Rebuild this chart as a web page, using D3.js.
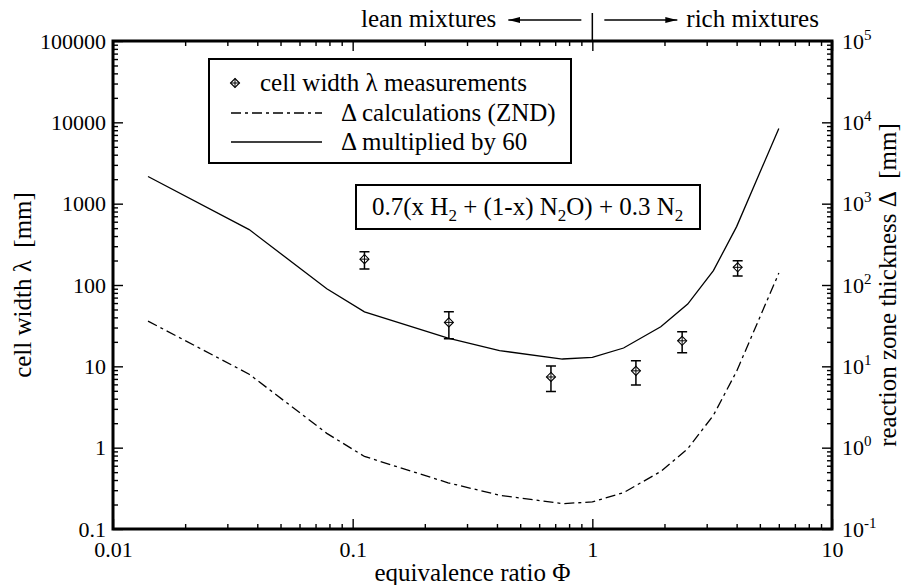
<!DOCTYPE html>
<html lang="en">
<head>
<meta charset="utf-8">
<title>Cell width vs equivalence ratio</title>
<script src="https://d3js.org/d3.v7.min.js"></script>
<style>
  body { margin: 0; background: #fff; }
  svg text { font-family: "Liberation Serif", "Times New Roman", serif; fill: #000; }
</style>
</head>
<body>
<script>
// ZND reaction zone thickness (mm) vs equivalence ratio
var phi   = [0.014, 0.037, 0.078, 0.112, 0.25, 0.41, 0.75, 1.0, 1.35, 1.93, 2.5, 3.2, 4.0, 6.0];
var delta = [36, 8.0, 1.5, 0.78, 0.37, 0.26, 0.205, 0.215, 0.28, 0.51, 0.97, 2.5, 8.7, 140];
var factor = 60;   // "multiplied by 60"

// measured cell widths (mm) with error bars
var mPhi = [0.112, 0.252, 0.672, 1.52, 2.37, 4.04];
var mVal = [208, 34.7, 7.4, 8.8, 20.6, 165];
var mLo  = [157, 21.8, 4.9, 5.9, 14.7, 129];
var mHi  = [256, 47, 10.1, 11.7, 26.6, 199];

var xTicks = [0.01, 0.1, 1, 10];
var xLabels = ["0.01", "0.1", "1", "10"];
var yTicks = [0.1, 1, 10, 100, 1000, 10000, 100000];
var yLabels = ["0.1", "1", "10", "100", "1000", "10000", "100000"];
var rightExp = ["-1", "0", "1", "2", "3", "4", "5"];

var W = 903, H = 585,
    pLeft = 113, pRight = 832, pTop = 41, pBottom = 529;

var svg = d3.select("body").append("svg")
    .attr("width", W).attr("height", H)
    .attr("font-family", "Liberation Serif, Times New Roman, serif");

var x = d3.scaleLog().domain([0.01, 10]).range([pLeft, pRight]);
var y = d3.scaleLog().domain([0.1, 100000]).range([pBottom, pTop]);

function minors(ticks) {
  var out = [];
  for (var i = 0; i < ticks.length - 1; i++)
    for (var k = 2; k <= 9; k++) out.push(ticks[i] * k);
  return out;
}
var xMinor = minors(xTicks), yMinor = minors(yTicks);

function clean(g) {
  g.attr("font-family", null).attr("font-size", null);
  g.select(".domain").remove();
  g.selectAll("line").attr("stroke", "#000").attr("stroke-width", 1.4);
}

// bottom axis
svg.append("g").attr("transform", "translate(0," + pBottom + ")")
  .call(d3.axisBottom(x).tickValues(xTicks).tickSize(-10).tickPadding(12)
    .tickFormat(function(d, i) { return xLabels[i]; }))
  .call(clean)
  .selectAll("text").attr("font-size", 22);
svg.append("g").attr("transform", "translate(0," + pBottom + ")")
  .call(d3.axisBottom(x).tickValues(xMinor).tickSize(-5).tickFormat(""))
  .call(clean);

// top axis
svg.append("g").attr("transform", "translate(0," + pTop + ")")
  .call(d3.axisTop(x).tickValues(xTicks).tickSize(-10).tickFormat(""))
  .call(clean);
svg.append("g").attr("transform", "translate(0," + pTop + ")")
  .call(d3.axisTop(x).tickValues(xMinor).tickSize(-5).tickFormat(""))
  .call(clean);

// left axis
svg.append("g").attr("transform", "translate(" + pLeft + ",0)")
  .call(d3.axisLeft(y).tickValues(yTicks).tickSize(-10).tickPadding(7)
    .tickFormat(function(d, i) { return yLabels[i]; }))
  .call(clean)
  .selectAll("text").attr("font-size", 22);
svg.append("g").attr("transform", "translate(" + pLeft + ",0)")
  .call(d3.axisLeft(y).tickValues(yMinor).tickSize(-5).tickFormat(""))
  .call(clean);

// right axis with powers of ten
var ra = svg.append("g").attr("transform", "translate(" + pRight + ",0)")
  .call(d3.axisRight(y).tickValues(yTicks).tickSize(-10).tickPadding(10).tickFormat(""))
  .call(clean);
ra.selectAll(".tick text").each(function(d, i) {
  var t = d3.select(this).attr("font-size", 22);
  t.text(null);
  t.append("tspan").text("10");
  t.append("tspan").attr("font-size", 15).attr("dy", -9).text(rightExp[i]);
});
svg.append("g").attr("transform", "translate(" + pRight + ",0)")
  .call(d3.axisRight(y).tickValues(yMinor).tickSize(-5).tickFormat(""))
  .call(clean);

// frame
svg.append("rect")
  .attr("x", pLeft).attr("y", pTop)
  .attr("width", pRight - pLeft).attr("height", pBottom - pTop)
  .attr("fill", "none").attr("stroke", "#000").attr("stroke-width", 3);

// axis titles
svg.append("text")
  .attr("x", (pLeft + pRight) / 2).attr("y", 581)
  .attr("text-anchor", "middle").attr("font-size", 25)
  .text("equivalence ratio \u03A6");
svg.append("text")
  .attr("transform", "translate(31," + (pTop + pBottom) / 2 + ") rotate(-90)")
  .attr("text-anchor", "middle").attr("font-size", 25)
  .text("cell width \u03BB\u00A0\u00A0[mm]");
svg.append("text")
  .attr("transform", "translate(896," + (pTop + pBottom) / 2 + ") rotate(-90)")
  .attr("text-anchor", "middle").attr("font-size", 25)
  .text("reaction zone thickness \u0394\u00A0\u00A0[mm]");

// curves
var line = d3.line()
  .x(function(d) { return x(d[0]); })
  .y(function(d) { return y(d[1]); });

var calc = phi.map(function(p, i) { return [p, delta[i]]; });
var scaled = phi.map(function(p, i) { return [p, delta[i] * factor]; });

svg.append("path").attr("d", line(calc))
  .attr("fill", "none").attr("stroke", "#000").attr("stroke-width", 1.3)
  .attr("stroke-dasharray", "10,4,3,4");
svg.append("path").attr("d", line(scaled))
  .attr("fill", "none").attr("stroke", "#000").attr("stroke-width", 1.3);

// measurement markers
function marker(g, cx, cy) {
  var r = 4.5;
  g.append("path")
    .attr("d", "M" + cx + "," + (cy - r) + "L" + (cx + r) + "," + cy + "L" + cx + "," + (cy + r) + "L" + (cx - r) + "," + cy + "Z")
    .attr("fill", "#fff").attr("stroke", "#000").attr("stroke-width", 1.1);
  g.append("path")
    .attr("d", "M" + (cx - r) + "," + cy + "H" + (cx + r) + "M" + cx + "," + (cy - r) + "V" + (cy + r))
    .attr("stroke", "#000").attr("stroke-width", 1);
}

var pts = svg.append("g");
mPhi.forEach(function(p, i) {
  var cx = x(p), cap = 5;
  pts.append("path")
    .attr("d", "M" + cx + "," + y(mLo[i]) + "V" + y(mHi[i]) +
               "M" + (cx - cap) + "," + y(mHi[i]) + "H" + (cx + cap) +
               "M" + (cx - cap) + "," + y(mLo[i]) + "H" + (cx + cap))
    .attr("fill", "none").attr("stroke", "#000").attr("stroke-width", 1.5);
  marker(pts, cx, y(mVal[i]));
});

// legend
var lg = svg.append("g");
lg.append("rect").attr("x", 209).attr("y", 59).attr("width", 362).attr("height", 104)
  .attr("fill", "#fff").attr("stroke", "#000").attr("stroke-width", 2);
marker(lg, 235, 83);
lg.append("text").attr("x", 260).attr("y", 91).attr("font-size", 25)
  .text("cell width \u03BB measurements");
lg.append("line").attr("x1", 231).attr("x2", 322).attr("y1", 113).attr("y2", 113)
  .attr("stroke", "#000").attr("stroke-width", 1.3).attr("stroke-dasharray", "10,4,3,4");
lg.append("text").attr("x", 341).attr("y", 121).attr("font-size", 25)
  .text("\u0394 calculations (ZND)");
lg.append("line").attr("x1", 231).attr("x2", 322).attr("y1", 142).attr("y2", 142)
  .attr("stroke", "#000").attr("stroke-width", 1.3);
lg.append("text").attr("x", 341).attr("y", 150).attr("font-size", 25)
  .text("\u0394 multiplied by 60");

// mixture box
var mb = svg.append("g");
mb.append("rect").attr("x", 356).attr("y", 185).attr("width", 344).attr("height", 44)
  .attr("fill", "#fff").attr("stroke", "#000").attr("stroke-width", 2);
var ft = mb.append("text").attr("x", 372).attr("y", 215).attr("font-size", 25);
ft.append("tspan").text("0.7(x H");
ft.append("tspan").attr("font-size", 17).attr("dy", 6).text("2");
ft.append("tspan").attr("dy", -6).text(" + (1-x) N");
ft.append("tspan").attr("font-size", 17).attr("dy", 6).text("2");
ft.append("tspan").attr("dy", -6).text("O) + 0.3 N");
ft.append("tspan").attr("font-size", 17).attr("dy", 6).text("2");

// lean / rich annotation
var defs = svg.append("defs");
defs.append("marker").attr("id", "ah").attr("viewBox", "0 0 12 6")
  .attr("refX", 12).attr("refY", 3).attr("markerWidth", 12).attr("markerHeight", 6)
  .attr("markerUnits", "userSpaceOnUse").attr("orient", "auto")
  .append("path").attr("d", "M0,0L12,3L0,6Z").attr("fill", "#000");

var x1 = x(1);
svg.append("line").attr("x1", x1).attr("x2", x1).attr("y1", 13).attr("y2", pTop)
  .attr("stroke", "#000").attr("stroke-width", 1.5);
svg.append("line").attr("x1", x1 - 11).attr("x2", x1 - 84).attr("y1", 20).attr("y2", 20)
  .attr("stroke", "#000").attr("stroke-width", 1.5).attr("marker-end", "url(#ah)");
svg.append("line").attr("x1", x1 + 12).attr("x2", x1 + 85).attr("y1", 20).attr("y2", 20)
  .attr("stroke", "#000").attr("stroke-width", 1.5).attr("marker-end", "url(#ah)");
svg.append("text").attr("x", x1 - 96).attr("y", 27).attr("text-anchor", "end")
  .attr("font-size", 25).text("lean mixtures");
svg.append("text").attr("x", x1 + 94).attr("y", 27)
  .attr("font-size", 25).text("rich mixtures");
</script>
</body>
</html>
